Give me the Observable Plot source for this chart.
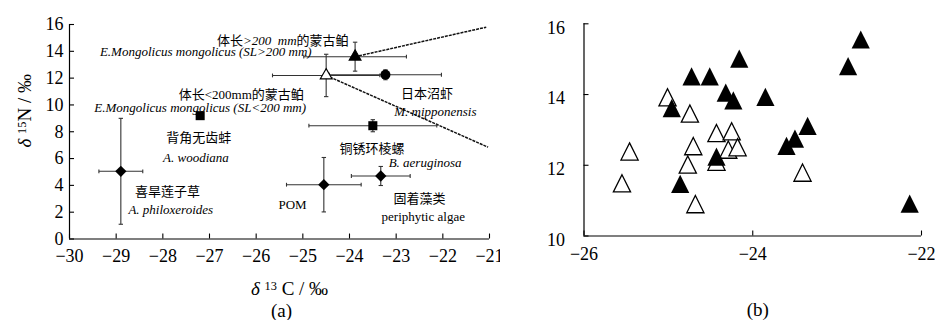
<!DOCTYPE html>
<html><head><meta charset="utf-8">
<script src="https://cdn.jsdelivr.net/npm/d3@7"></script>
<script src="https://cdn.jsdelivr.net/npm/@observablehq/plot@0.6"></script>
<style>
body{margin:0;background:#fff;}
#wrap{position:relative;width:935px;height:320px;background:#fff;overflow:hidden;}
#a{position:absolute;left:0;top:0;}
#b{position:absolute;left:500px;top:0;}
</style></head><body><div id="wrap"><div id="a"></div><div id="b"></div></div>
<script>
// ---------- Panel (a): means ± SD ----------
const groups = ["A. philoxeroides","A. woodiana","POM","periphytic algae","B. aeruginosa","M. nipponensis","SL<200 mm","SL>200 mm"];
const d13C   = [-28.9, -27.2, -24.55, -23.33, -23.5, -23.23, -24.5, -23.88];
const d15N   = [5.05, 9.2, 4.05, 4.7, 8.45, 12.25, 12.2, 13.6];
const sdC    = [0.47, 0, 0.8, 0.63, 1.37, 1.2, 1.15, 1.1];
const sdN    = [3.95, 0, 2.03, 0.71, 0.45, 0.37, 1.58, 1.08];
const shapes = ["diamond2","square","diamond2","diamond2","square","circle","triangle","triangle"];
const solid  = [true, true, true, true, true, true, false, true];

// dotted guide lines from the two size classes
const guideX1 = [-23.88, -24.5];
const guideY1 = [13.6, 12.2];
const guideX2 = [-21.07, -21.03];
const guideY2 = [15.8, 6.85];

// annotation labels (anchor in data units)
const labelText = ["体长>200 mm的蒙古鲌","E.Mongolicus mongolicus (SL>200 mm)","体长<200mm的蒙古鲌","E.Mongolicus mongolicus (SL<200 mm)",
  "背角无齿蚌","A. woodiana","喜旱莲子草","A. philoxeroides","日本沼虾","M. mipponensis","铜锈环棱螺","B. aeruginosa","POM","固着藻类","periphytic algae"];
const labelX = [-25.43,-27.08,-26.32,-27.20,-27.23,-27.29,-27.90,-27.83,-22.34,-22.16,-23.52,-22.38,-25.22,-22.50,-22.42];
const labelY = [14.81,13.94,10.78,9.81,7.57,6.04,3.49,2.20,10.86,9.51,6.75,5.71,2.57,3.02,1.68];
const labelKind = ["rich","it","rich","it","cjk","it","cjk","it","cjk","it","cjk","it","rm","cjk","rm"];

const ticksAX = [-30,-29,-28,-27,-26,-25,-24,-23,-22,-21];
const ticksAY = [0,2,4,6,8,10,12,14,16];

// ---------- Panel (b): individual fish ----------
const openC = [-25.55,-25.46,-25.01,-24.745,-24.705,-24.77,-24.68,-24.43,-24.25,-24.29,-24.18,-24.43,-23.41];
const openN = [11.41,12.31,13.84,13.38,12.46,11.94,10.82,12.83,12.88,12.36,12.43,12.02,11.71];
const fillC = [-24.96,-24.725,-24.51,-24.86,-24.32,-24.23,-23.85,-24.16,-23.35,-23.50,-23.60,-22.72,-22.87,-22.14,-24.43];
const fillN = [13.53,14.43,14.43,11.39,13.97,13.75,13.85,14.93,13.03,12.67,12.46,15.47,14.72,10.83,12.16];
const ticksBX = [-26,-24,-22];
const ticksBY = [10,12,14,16];

// ---------- helpers ----------
const serif = "'Liberation Serif','DejaVu Serif',serif";
const cjk = "'Noto Sans CJK SC','Liberation Serif',sans-serif";
const fmt = d => String(d).replace("-", "\u2212");
const capH = {draw(ctx, size){ const r = Math.sqrt(size/Math.PI); ctx.moveTo(-r,0); ctx.lineTo(r,0); }};
const capV = {draw(ctx, size){ const r = Math.sqrt(size/Math.PI); ctx.moveTo(0,-r); ctx.lineTo(0,r); }};
const tri = {draw(ctx, size){ const r = Math.sqrt(size/Math.PI); ctx.moveTo(0,-4*r/3); ctx.lineTo(r,2*r/3); ctx.lineTo(-r,2*r/3); ctx.closePath(); }};

const A = groups.map((g,i)=>({g, x:d13C[i], y:d15N[i], sx:sdC[i], sy:sdN[i], shape:shapes[i], solid:solid[i]}));
const guides = guideX1.map((x1,i)=>({x1, y1:guideY1[i], x2:guideX2[i], y2:guideY2[i]}));
const labels = labelText.map((t,i)=>({t, x:labelX[i], y:labelY[i], k:labelKind[i]}));
const errC = A.filter(d=>d.sx>0), errN = A.filter(d=>d.sy>0);
const barColor = "#333";

const rich = new Map([
  ["体长>200 mm的蒙古鲌", [["体长","cjk"],[">200\u00a0 mm","it"],["的蒙古鲌","cjk"]]],
  ["体长<200mm的蒙古鲌", [["体长","cjk"],["<200mm","rm"],["的蒙古鲌","cjk"]]],
  ["δ 15N / ‰", [["δ","it"],["\u00a0","rm"],["15","sup"],["N / ‰","rm"]]],
  ["δ 13 C / ‰", [["δ","it"],["\u00a0","rm"],["13","sup"],["\u00a0C / ‰","rm"]]]
]);
function enrich(svg){
  d3.select(svg).selectAll("text").each(function(){
    const segs = rich.get(this.textContent);
    if (!segs) return;
    const s = d3.select(this); s.text(null);
    for (const [t,k] of segs){
      const ts = s.append("tspan").text(t).attr("font-family", k==="cjk" ? cjk : serif);
      if (k==="it") ts.attr("font-style","italic");
      if (k==="sup") ts.attr("font-size","0.65em").attr("baseline-shift","45%");
    }
  });
}

const shapeMarks = [];
for (const s of ["diamond2","square","circle"]) {
  shapeMarks.push(Plot.dot(A.filter(d=>d.shape===s), {x:"x", y:"y", symbol:s, r: s==="circle"?5:5.1, fill:"black", stroke:"none"}));
}
shapeMarks.push(Plot.dot(A.filter(d=>d.shape==="triangle"), {x:"x", y:"y", symbol:"triangle", r:4.4, fill:d=>d.solid?"black":"white", stroke:"black", strokeWidth:1.1}));

const plotA = Plot.plot({
  width: 500, height: 320,
  marginLeft: 69, marginRight: 11, marginTop: 24, marginBottom: 81.5,
  x: {domain: [-30,-21]}, y: {domain: [0,16]},
  style: {fontFamily: serif, fontSize: "18px", background: "white", color: "black", overflow: "visible"},
  marks: [
    Plot.ruleY([0], {stroke:"black", strokeWidth:1.2}),
    Plot.ruleX([-30], {stroke:"black", strokeWidth:1.2}),
    Plot.axisX({ticks: ticksAX, tickSize: -5, tickFormat: () => "", label: null, strokeWidth: 1.1}),
    Plot.axisX({ticks: ticksAX, tickSize: 0, tickPadding: 10, tickFormat: fmt, label: null, fontSize: 18}),
    Plot.axisY({ticks: ticksAY, tickSize: -5, tickFormat: () => "", label: null, strokeWidth: 1.1}),
    Plot.axisY({ticks: ticksAY, tickSize: 0, tickPadding: 6, tickFormat: fmt, label: null, fontSize: 18}),
    Plot.link(guides, {x1:"x1", y1:"y1", x2:"x2", y2:"y2", stroke:"#111", strokeWidth:1.5, strokeDasharray:"3,1"}),
    Plot.link(errC, {x1:d=>d.x-d.sx, x2:d=>d.x+d.sx, y1:"y", y2:"y", stroke:barColor, strokeWidth:1.1}),
    Plot.link(errN, {x1:"x", x2:"x", y1:d=>d.y-d.sy, y2:d=>d.y+d.sy, stroke:barColor, strokeWidth:1.1}),
    Plot.dot(errC, {x:d=>d.x-d.sx, y:"y", symbol:capV, r:1.9, fill:"none", stroke:barColor, strokeWidth:1.1}),
    Plot.dot(errC, {x:d=>d.x+d.sx, y:"y", symbol:capV, r:1.9, fill:"none", stroke:barColor, strokeWidth:1.1}),
    Plot.dot(errN, {x:"x", y:d=>d.y-d.sy, symbol:capH, r:2.2, fill:"none", stroke:barColor, strokeWidth:1.1}),
    Plot.dot(errN, {x:"x", y:d=>d.y+d.sy, symbol:capH, r:2.2, fill:"none", stroke:barColor, strokeWidth:1.1}),
    ...shapeMarks,
    Plot.text(labels.filter(d=>d.k==="cjk"||d.k==="rich"), {x:"x", y:"y", text:"t", fontFamily: cjk, fontSize: 13, fill:"black"}),
    Plot.text(labels.filter(d=>d.k==="it"), {x:"x", y:"y", text:"t", fontFamily: serif, fontStyle:"italic", fontSize: 13, fill:"black"}),
    Plot.text(labels.filter(d=>d.k==="rm"), {x:"x", y:"y", text:"t", fontFamily: serif, fontSize: 13, fill:"black"}),
    Plot.text(["δ 15N / ‰"], {frameAnchor:"left", rotate:-90, textAnchor:"middle", lineAnchor:"middle", dx:-45, dy:-21, fontSize:19, fontFamily: serif}),
    Plot.text(["δ 13 C / ‰"], {frameAnchor:"bottom", textAnchor:"middle", lineAnchor:"middle", dx:10, dy:50, fontSize:19, fontFamily: serif}),
    Plot.text(["(a)"], {frameAnchor:"bottom", textAnchor:"middle", lineAnchor:"middle", dx:2, dy:71.5, fontSize:19, fontFamily: serif})
  ]
});
enrich(plotA);
document.getElementById("a").appendChild(plotA);

const B1 = openC.map((x,i)=>({x, y:openN[i]}));
const B2 = fillC.map((x,i)=>({x, y:fillN[i]}));
const plotB = Plot.plot({
  width: 435, height: 320,
  marginLeft: 83.5, marginRight: 14, marginTop: 23.3, marginBottom: 84.5,
  x: {domain: [-26,-22]}, y: {domain: [10,16]},
  style: {fontFamily: serif, fontSize: "18px", background: "white", color: "black", overflow: "visible"},
  marks: [
    Plot.ruleY([10], {stroke:"black", strokeWidth:1.2}),
    Plot.ruleX([-26], {stroke:"black", strokeWidth:1.2}),
    Plot.axisX({ticks: ticksBX, tickSize: -5, tickFormat: () => "", label: null, strokeWidth: 1.1}),
    Plot.axisX({ticks: ticksBX, tickSize: 0, tickPadding: 11, tickFormat: fmt, label: null, fontSize: 18}),
    Plot.axisY({ticks: ticksBY, tickSize: -5, tickFormat: () => "", label: null, strokeWidth: 1.1}),
    Plot.axisY({ticks: ticksBY, tickSize: 0, tickPadding: 19, dy: 4, tickFormat: fmt, label: null, fontSize: 18}),
    Plot.dot(B1, {x:"x", y:"y", symbol:tri, r:8.6, fill:"white", stroke:"black", strokeWidth:1.3}),
    Plot.dot(B2, {x:"x", y:"y", symbol:tri, r:9.1, fill:"black", stroke:"none"}),
    Plot.text(["(b)"], {frameAnchor:"bottom", textAnchor:"middle", lineAnchor:"middle", dx:5, dy:73.5, fontSize:19, fontFamily: serif})
  ]
});
document.getElementById("b").appendChild(plotB);
</script></body></html>
